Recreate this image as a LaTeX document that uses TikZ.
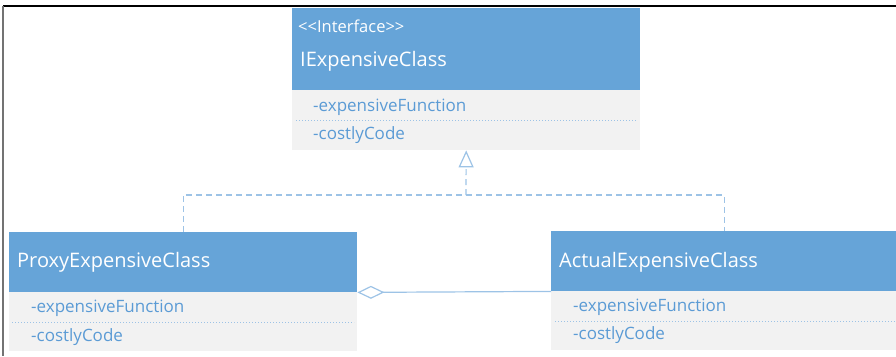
\documentclass[tikz,border=0pt]{standalone}
\usepackage{fontspec}
\setmainfont{Open Sans}
\usetikzlibrary{arrows.meta}
\definecolor{hdrblue}{RGB}{102,164,216}
\definecolor{bodygray}{RGB}{242,242,242}
\definecolor{membertxt}{RGB}{91,155,213}
\definecolor{linkblue}{RGB}{157,195,230}
\begin{document}
\begin{tikzpicture}[x=1pt,y=-1pt,
  hdr/.style={fill=hdrblue,draw=none,inner sep=0,anchor=north west},
  bodybox/.style={fill=bodygray,draw=none,inner sep=0,anchor=north west},
  title/.style={text=white,font=\fontsize{20}{22}\selectfont,anchor=west,inner sep=0},
  stereo/.style={text=white,font=\fontsize{16.5}{18}\selectfont,anchor=west,inner sep=0},
  member/.style={text=membertxt,font=\fontsize{17}{19}\selectfont,anchor=west,inner sep=0},
  sep/.style={draw=linkblue,line width=1pt,dotted},
  dep/.style={draw=linkblue,line width=1.2pt,dash pattern=on 6pt off 4pt},
  assoc/.style={draw=linkblue,line width=1.2pt}]
\useasboundingbox (0,0) rectangle (896,356);
% frame
\draw[line width=2pt,black] (3,6) -- (896,6);
\draw[line width=2pt,black!55] (3,6) -- (3,356);

% interface class
\node[hdr,minimum width=348pt,minimum height=82pt] (ihdr) at (292,8) {};
\node[bodybox,minimum width=348pt,minimum height=60pt] (ibody) at (292,90) {};
\node[stereo] (istereo) at (298,26) {{<}{<}Interface{>}{>}};
\node[title] (iname) at (300,61.5) {IExpensiveClass};
\node[member] (ifunc) at (313,107) {-expensiveFunction};
\node[member] (icode) at (313,135) {-costlyCode};
\draw[sep] (296,120) -- (636,120);

% proxy class
\node[hdr,minimum width=348pt,minimum height=60pt] (phdr) at (9,232) {};
\node[bodybox,minimum width=348pt,minimum height=59pt] (pbody) at (9,292) {};
\node[title] (pname) at (17,262.5) {ProxyExpensiveClass};
\node[member] (pfunc) at (31,308) {-expensiveFunction};
\node[member] (pcode) at (31,337) {-costlyCode};
\draw[sep] (12,322) -- (354,322);

% actual class
\node[hdr,minimum width=346pt,minimum height=60pt] (ahdr) at (551,231) {};
\node[bodybox,minimum width=346pt,minimum height=59pt] (abody) at (551,291) {};
\node[title] (aname) at (559,262) {ActualExpensiveClass};
\node[member] (afunc) at (573,307) {-expensiveFunction};
\node[member] (acode) at (573,335) {-costlyCode};
\draw[sep] (555,321) -- (896,321);

% realization of the interface
\coordinate (join) at (466,195);
\draw[dep] (phdr.north) |- (join) -| (ahdr.north);
\draw[dep,-{Triangle[open,length=17pt,width=15pt,line width=1.2pt]}] (join) -- (ibody.south);

% aggregation
\draw[assoc,{Diamond[open,length=27pt,width=13pt,line width=1.2pt]}-] (phdr.south east) -- (ahdr.south west);
\end{tikzpicture}
\end{document}
